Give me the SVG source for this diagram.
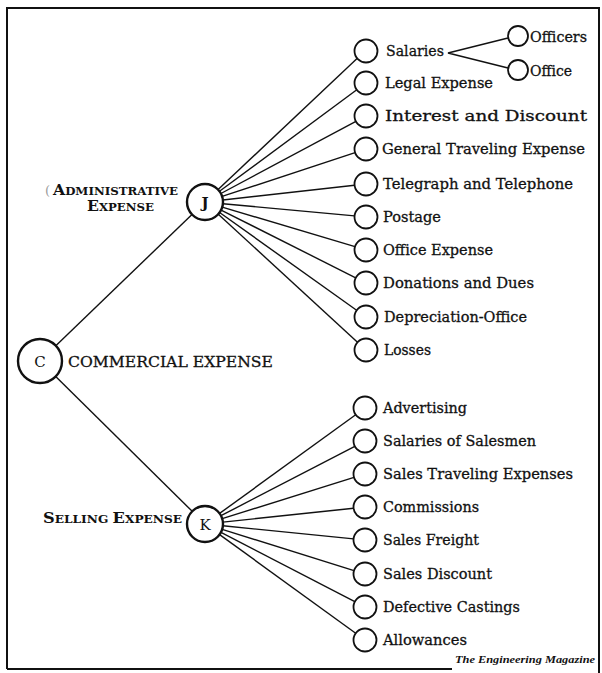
<svg xmlns="http://www.w3.org/2000/svg" width="602" height="673" viewBox="0 0 602 673">
<style>
.bd{fill:none;stroke:#111;stroke-width:2}
.ln{fill:none;stroke:#111;stroke-width:1.4}
.hub{fill:#fff;stroke:#111;stroke-width:2.4}
.lf{fill:#fff;stroke:#111;stroke-width:1.8}
.t{font-family:"DejaVu Serif","Liberation Serif",serif;font-size:15px;fill:#111;stroke:#111;stroke-width:0.3}
.sc{font-family:"DejaVu Serif","Liberation Serif",serif;font-weight:bold;fill:#111}
.hl{font-family:"DejaVu Serif","Liberation Serif",serif;font-size:15px;fill:#111;text-anchor:middle}
.cap{font-family:"Liberation Serif",serif;font-weight:bold;font-style:italic;font-size:11px;fill:#111}
</style>
<rect width="602" height="673" fill="#fff"/>
<path class="bd" d="M7,669 L7,8 L599,8 L599,673 M7,669 L452,669"/>
<g id="connectors">
<line class="ln" x1="55.8" y1="345.7" x2="192" y2="214.5"/>
<line class="ln" x1="55.7" y1="376.5" x2="192.2" y2="511.3"/>
<line class="ln" x1="218.1" y1="189.6" x2="357.6" y2="57.9"/>
<line class="ln" x1="219.5" y1="191.3" x2="356.8" y2="89.8"/>
<line class="ln" x1="220.9" y1="193.5" x2="355.9" y2="121.4"/>
<line class="ln" x1="222.1" y1="196.4" x2="355.1" y2="152.6"/>
<line class="ln" x1="222.9" y1="200" x2="354.6" y2="185.3"/>
<line class="ln" x1="222.9" y1="203.7" x2="354.5" y2="215.9"/>
<line class="ln" x1="222.2" y1="207.1" x2="355" y2="246.7"/>
<line class="ln" x1="221.1" y1="210.1" x2="355.7" y2="277.8"/>
<line class="ln" x1="219.6" y1="212.5" x2="356.6" y2="310.3"/>
<line class="ln" x1="218.3" y1="214.2" x2="357.5" y2="342.2"/>
<line class="ln" x1="219.6" y1="513.4" x2="355.7" y2="414.8"/>
<line class="ln" x1="221" y1="515.7" x2="354.8" y2="446.3"/>
<line class="ln" x1="222.2" y1="518.6" x2="354" y2="477.4"/>
<line class="ln" x1="222.9" y1="522.1" x2="353.6" y2="508.2"/>
<line class="ln" x1="222.9" y1="525.8" x2="353.6" y2="538.9"/>
<line class="ln" x1="222.2" y1="529.4" x2="354" y2="570.6"/>
<line class="ln" x1="221" y1="532.3" x2="354.8" y2="601.7"/>
<line class="ln" x1="219.6" y1="534.6" x2="355.7" y2="633.2"/>
<path class="ln" d="M508,38 L448,53 L508,68"/>
</g>
<g id="C">
<circle class="hub" cx="40" cy="361" r="22"/>
<text class="hl" x="40" y="367" font-size="16">C</text>
<text class="t" x="68" y="367" font-size="18" textLength="205" lengthAdjust="spacingAndGlyphs">COMMERCIAL EXPENSE</text>
</g>
<g id="J">
<circle class="hub" cx="205" cy="202" r="18"/>
<text class="hl" x="205" y="208" font-weight="bold">J</text>
<text x="45" y="195" font-family="DejaVu Serif,serif" font-size="13" fill="#999">(</text>
<text class="sc" x="53" y="195" textLength="125" lengthAdjust="spacingAndGlyphs"><tspan font-size="14">A</tspan><tspan font-size="10.5">DMINISTRATIVE</tspan></text>
<text class="sc" x="87" y="211" textLength="67" lengthAdjust="spacingAndGlyphs"><tspan font-size="14">E</tspan><tspan font-size="10.5">XPENSE</tspan></text>
</g>
<g id="K">
<circle class="hub" cx="205" cy="524" r="18"/>
<text class="hl" x="205" y="530">K</text>
<text class="sc" x="43" y="523" textLength="139" lengthAdjust="spacingAndGlyphs"><tspan font-size="14">S</tspan><tspan font-size="10.5">ELLING </tspan><tspan font-size="14">E</tspan><tspan font-size="10.5">XPENSE</tspan></text>
</g>
<g id="salaries"><circle class="lf" cx="366" cy="51" r="11.5"/><text class="t" x="386" y="56" textLength="58" lengthAdjust="spacingAndGlyphs">Salaries</text></g>
<g id="officers"><circle class="lf" cx="518" cy="36" r="10"/><text class="t" x="530" y="42" textLength="57" lengthAdjust="spacingAndGlyphs">Officers</text></g>
<g id="office"><circle class="lf" cx="518" cy="70" r="10"/><text class="t" x="530" y="76" textLength="42" lengthAdjust="spacingAndGlyphs">Office</text></g>
<g id="legal"><circle class="lf" cx="366" cy="83" r="11.5"/><text class="t" x="385" y="88" textLength="108" lengthAdjust="spacingAndGlyphs">Legal Expense</text></g>
<g id="interest"><circle class="lf" cx="366" cy="116" r="11.5"/><text class="t" x="385" y="121" textLength="202" lengthAdjust="spacingAndGlyphs">Interest and Discount</text></g>
<g id="general"><circle class="lf" cx="366" cy="149" r="11.5"/><text class="t" x="382" y="154" textLength="203" lengthAdjust="spacingAndGlyphs">General Traveling Expense</text></g>
<g id="telegraph"><circle class="lf" cx="366" cy="184" r="11.5"/><text class="t" x="383" y="189" textLength="190" lengthAdjust="spacingAndGlyphs">Telegraph and Telephone</text></g>
<g id="postage"><circle class="lf" cx="366" cy="217" r="11.5"/><text class="t" x="383" y="222" textLength="58" lengthAdjust="spacingAndGlyphs">Postage</text></g>
<g id="officeexp"><circle class="lf" cx="366" cy="250" r="11.5"/><text class="t" x="383" y="255" textLength="110" lengthAdjust="spacingAndGlyphs">Office Expense</text></g>
<g id="donations"><circle class="lf" cx="366" cy="283" r="11.5"/><text class="t" x="383" y="288" textLength="151" lengthAdjust="spacingAndGlyphs">Donations and Dues</text></g>
<g id="depreciation"><circle class="lf" cx="366" cy="317" r="11.5"/><text class="t" x="384" y="322" textLength="143" lengthAdjust="spacingAndGlyphs">Depreciation-Office</text></g>
<g id="losses"><circle class="lf" cx="366" cy="350" r="11.5"/><text class="t" x="384" y="355" textLength="47" lengthAdjust="spacingAndGlyphs">Losses</text></g>
<g id="advertising"><circle class="lf" cx="365" cy="408" r="11.5"/><text class="t" x="383" y="413" textLength="84" lengthAdjust="spacingAndGlyphs">Advertising</text></g>
<g id="salesmen"><circle class="lf" cx="365" cy="441" r="11.5"/><text class="t" x="383" y="446" textLength="153" lengthAdjust="spacingAndGlyphs">Salaries of Salesmen</text></g>
<g id="salestravel"><circle class="lf" cx="365" cy="474" r="11.5"/><text class="t" x="383" y="479" textLength="190" lengthAdjust="spacingAndGlyphs">Sales Traveling Expenses</text></g>
<g id="commissions"><circle class="lf" cx="365" cy="507" r="11.5"/><text class="t" x="383" y="512" textLength="96" lengthAdjust="spacingAndGlyphs">Commissions</text></g>
<g id="freight"><circle class="lf" cx="365" cy="540" r="11.5"/><text class="t" x="383" y="545" textLength="96" lengthAdjust="spacingAndGlyphs">Sales Freight</text></g>
<g id="discount"><circle class="lf" cx="365" cy="574" r="11.5"/><text class="t" x="383" y="579" textLength="109" lengthAdjust="spacingAndGlyphs">Sales Discount</text></g>
<g id="defective"><circle class="lf" cx="365" cy="607" r="11.5"/><text class="t" x="383" y="612" textLength="137" lengthAdjust="spacingAndGlyphs">Defective Castings</text></g>
<g id="allowances"><circle class="lf" cx="365" cy="640" r="11.5"/><text class="t" x="383" y="645" textLength="84" lengthAdjust="spacingAndGlyphs">Allowances</text></g>
<text class="cap" x="455" y="663" textLength="140" lengthAdjust="spacingAndGlyphs">The Engineering Magazine</text>
</svg>
